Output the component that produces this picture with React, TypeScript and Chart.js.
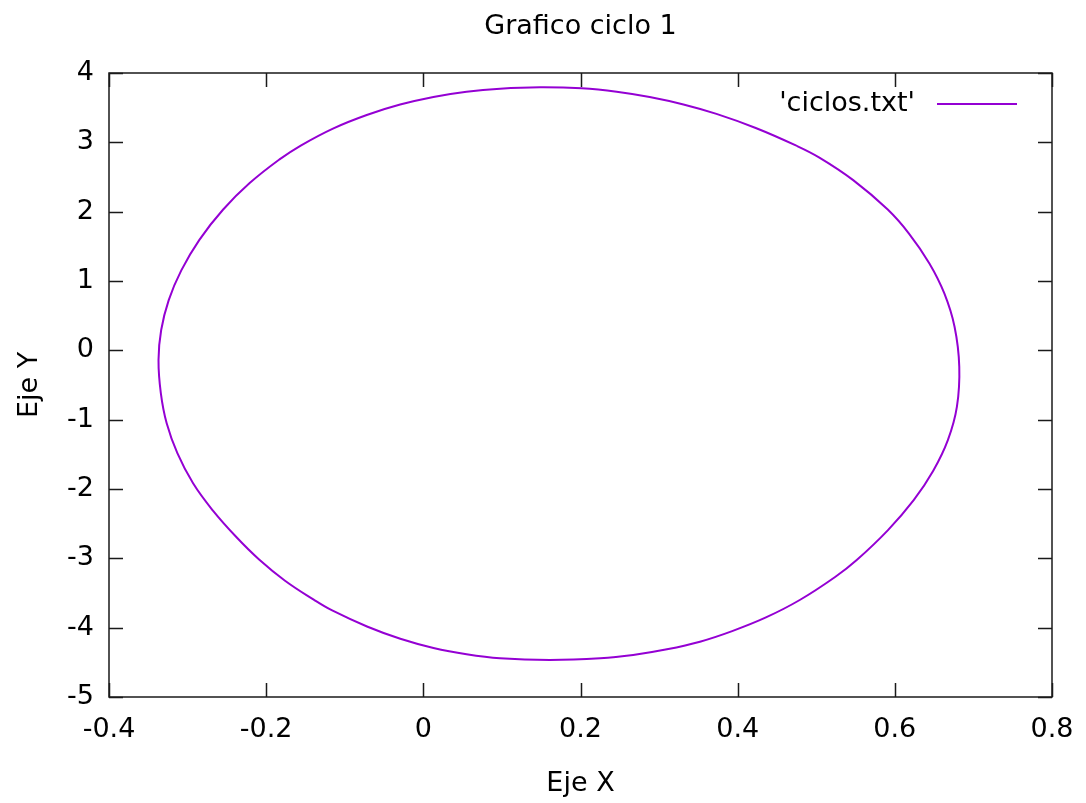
import React, { useEffect, useRef } from "react";
import { Chart, registerables } from "chart.js";

Chart.register(...registerables);

const chartTitle = "Grafico ciclo 1";
const seriesLabel = "'ciclos.txt'";
const xAxisTitle = "Eje X";
const yAxisTitle = "Eje Y";

const xTickValues = [-0.4, -0.2, 0, 0.2, 0.4, 0.6, 0.8];
const yTickValues = [-5, -4, -3, -2, -1, 0, 1, 2, 3, 4];

// closed cycle: the last point joins back to the first one
const cycleX = [
  0.682, 0.676, 0.663, 0.644, 0.618, 0.591, 0.547, 0.504, 0.474, 0.423,
  0.373, 0.331, 0.288, 0.246, 0.2015, 0.1485, 0.0977, 0.055, 0.0128, -0.0295,
  -0.072, -0.115, -0.156, -0.183, -0.221, -0.255, -0.285, -0.308, -0.324, -0.3336,
  -0.337, -0.334, -0.3266, -0.313, -0.293, -0.268, -0.238, -0.209, -0.176, -0.1395,
  -0.116, -0.0717, -0.0293, 0.0129, 0.055, 0.0976, 0.161, 0.225, 0.267, 0.31,
  0.352, 0.393, 0.436, 0.479, 0.524, 0.5515, 0.591, 0.624, 0.6487, 0.6676,
  0.679,
];
const cycleY = [
  -0.236, 0.34, 0.82, 1.253, 1.684, 2.03, 2.455, 2.78, 2.955, 3.207,
  3.41, 3.546, 3.653, 3.73, 3.779, 3.794, 3.774, 3.73, 3.655, 3.545,
  3.395, 3.199, 2.954, 2.754, 2.412, 2.028, 1.594, 1.153, 0.725, 0.293,
  -0.139, -0.62, -1.052, -1.483, -1.918, -2.308, -2.693, -3.017, -3.323, -3.596,
  -3.752, -3.983, -4.16, -4.293, -4.384, -4.442, -4.466, -4.442, -4.394, -4.312,
  -4.202, -4.049, -3.852, -3.601, -3.269, -3.024, -2.596, -2.161, -1.741, -1.292,
  -0.813,
];

const FONT = "'DejaVu Sans', Verdana, sans-serif";
const FONT_SIZE = 27;
const LINE_COLOR = "#9400d3";

// make the line element a closed loop so the spline is smooth everywhere
const closeCycle = {
  id: "closeCycle",
  afterDatasetsUpdate(chart: any) {
    const meta = chart.getDatasetMeta(0);
    if (meta && meta.dataset) {
      meta.dataset._loop = true;
      meta.dataset._fullLoop = true;
      meta.dataset._pointsUpdated = false;
    }
  },
};

const frameAndLegend = {
  id: "frameAndLegend",
  afterDraw(chart: any) {
    const { ctx, chartArea } = chart;
    const { left, right, top, bottom } = chartArea;
    const xs = chart.scales.x;
    const ys = chart.scales.y;
    const tl = 14;
    ctx.save();
    ctx.strokeStyle = "#1a1a1a";
    ctx.lineWidth = 1.5;
    ctx.strokeRect(left, top, right - left, bottom - top);
    ctx.beginPath();
    xs.ticks.forEach((t: any) => {
      const px = Math.round(xs.getPixelForValue(t.value)) + 0.5;
      ctx.moveTo(px, bottom);
      ctx.lineTo(px, bottom - tl);
      ctx.moveTo(px, top);
      ctx.lineTo(px, top + tl);
    });
    ys.ticks.forEach((t: any) => {
      const py = Math.round(ys.getPixelForValue(t.value)) + 0.5;
      ctx.moveTo(left, py);
      ctx.lineTo(left + tl, py);
      ctx.moveTo(right, py);
      ctx.lineTo(right - tl, py);
    });
    ctx.stroke();

    // key (legend) inside the top-right corner, gnuplot style
    const ds = chart.data.datasets[0];
    const ly = top + 31;
    ctx.font = `${FONT_SIZE}px ${FONT}`;
    ctx.fillStyle = "#000";
    ctx.textAlign = "right";
    ctx.textBaseline = "middle";
    ctx.fillText(ds.label, right - 137, ly);
    ctx.strokeStyle = ds.borderColor;
    ctx.lineWidth = 2;
    ctx.beginPath();
    ctx.moveTo(right - 115, ly);
    ctx.lineTo(right - 35, ly);
    ctx.stroke();
    ctx.restore();
  },
};

export default function App() {
  const canvasRef = useRef<HTMLCanvasElement | null>(null);

  useEffect(() => {
    const canvas = canvasRef.current;
    if (!canvas) return;
    const points = cycleX.map((x, i) => ({ x, y: cycleY[i] }));
    const chart = new Chart(canvas, {
      type: "scatter",
      data: {
        datasets: [
          {
            label: seriesLabel,
            data: points,
            showLine: true,
            spanGaps: true,
            borderColor: LINE_COLOR,
            backgroundColor: LINE_COLOR,
            borderWidth: 2,
            pointRadius: 0,
            tension: 0.4,
            fill: false,
          },
        ],
      },
      options: {
        responsive: false,
        animation: false,
        layout: { padding: { left: 0, right: 34, top: 0, bottom: 0 } },
        plugins: {
          legend: { display: false },
          tooltip: { enabled: false },
          title: {
            display: true,
            text: chartTitle,
            fullSize: false,
            color: "#000",
            font: { family: FONT, size: FONT_SIZE, weight: "normal", lineHeight: 1.2 },
            padding: { top: 11, bottom: 29.6 },
          },
        },
        scales: {
          x: {
            type: "linear",
            min: -0.4,
            max: 0.8,
            afterBuildTicks: (scale: any) => {
              scale.ticks = xTickValues.map((v) => ({ value: v }));
            },
            afterFit: (scale: any) => {
              scale.height = 106;
              scale.paddingLeft = 0;
              scale.paddingRight = 0;
            },
            grid: { display: false, drawTicks: false },
            border: { display: false },
            ticks: {
              color: "#000",
              font: { family: FONT, size: FONT_SIZE },
              padding: 17,
              maxRotation: 0,
              autoSkip: false,
              callback: (v: any) => String(Number(Number(v).toFixed(1))),
            },
            title: {
              display: true,
              text: xAxisTitle,
              color: "#000",
              font: { family: FONT, size: FONT_SIZE, lineHeight: 1.2 },
              padding: { top: 0, bottom: 3 },
            },
          },
          y: {
            type: "linear",
            min: -5,
            max: 4,
            afterBuildTicks: (scale: any) => {
              scale.ticks = yTickValues.map((v) => ({ value: v }));
            },
            afterFit: (scale: any) => {
              scale.width = 109;
              scale.paddingTop = 0;
              scale.paddingBottom = 0;
            },
            grid: { display: false, drawTicks: false },
            border: { display: false },
            ticks: {
              color: "#000",
              font: { family: FONT, size: FONT_SIZE },
              padding: 15,
              autoSkip: false,
              callback: (v: any) => String(v),
            },
            title: {
              display: true,
              text: yAxisTitle,
              color: "#000",
              font: { family: FONT, size: FONT_SIZE, lineHeight: 1.2 },
              padding: { top: 14, bottom: 0 },
            },
          },
        },
      },
      plugins: [closeCycle, frameAndLegend],
    });
    return () => chart.destroy();
  }, []);

  return (
    <div
      style={{
        position: "fixed",
        left: 0,
        top: 0,
        width: 1086,
        height: 803,
        background: "#fff",
      }}
    >
      <canvas ref={canvasRef} width={1086} height={803} />
    </div>
  );
}
